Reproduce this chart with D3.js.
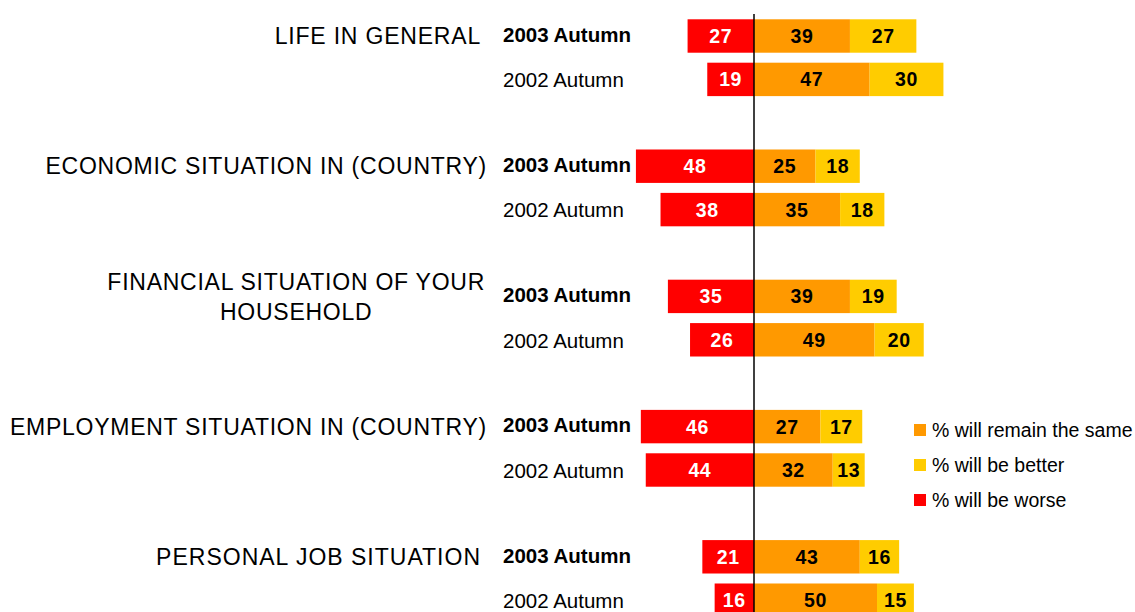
<!DOCTYPE html>
<html>
<head>
<meta charset="utf-8">
<script src="https://cdn.jsdelivr.net/npm/d3@7/dist/d3.min.js"></script>
<style>
  html, body { margin: 0; padding: 0; background: #fff; }
  svg { display: block; font-family: "Liberation Sans", Arial, sans-serif; }
</style>
</head>
<body>
<svg id="chart" width="1135" height="612"></svg>
<script>
const categories = [
  ["LIFE IN GENERAL"],
  ["ECONOMIC SITUATION IN (COUNTRY)"],
  ["FINANCIAL SITUATION OF YOUR", "HOUSEHOLD"],
  ["EMPLOYMENT SITUATION IN (COUNTRY)"],
  ["PERSONAL JOB SITUATION"]
];
const waves = ["2003 Autumn", "2002 Autumn"];
const worse  = [27, 19, 48, 38, 35, 26, 46, 44, 21, 16];
const same   = [39, 47, 25, 35, 39, 49, 27, 32, 43, 50];
const better = [27, 30, 18, 18, 19, 20, 17, 13, 16, 15];
const seriesNames = ["% will remain the same", "% will be better", "% will be worse"];
const colors = { worse: "#FF0000", same: "#FF9900", better: "#FFCC00" };

const svg = d3.select("#chart");
const cx = 754, unit = 2.46;
const x = d3.scaleLinear().domain([-60, 80]).range([cx - 60 * unit, cx + 80 * unit]);

// 15 slots: two bars + one gap per category
const slots = d3.range(15);
const y = d3.scaleBand().domain(slots).range([14.3, 14.3 + 15 * 43.4])
  .paddingInner(0.23).paddingOuter(0.115);

const rows = [];
categories.forEach((c, g) => {
  waves.forEach((w, k) => {
    const i = g * 2 + k;
    rows.push({ slot: g * 3 + k, wave: w, bold: k === 0, worse: worse[i], same: same[i], better: better[i] });
  });
});

const segs = [];
rows.forEach(r => {
  segs.push({ r, key: "worse", x0: -r.worse, x1: 0, v: r.worse, fill: colors.worse, tc: "#fff" });
  segs.push({ r, key: "same", x0: 0, x1: r.same, v: r.same, fill: colors.same, tc: "#000" });
  segs.push({ r, key: "better", x0: r.same, x1: r.same + r.better, v: r.better, fill: colors.better, tc: "#000" });
});

svg.append("g").selectAll("rect").data(segs).join("rect")
  .attr("x", d => x(d.x0))
  .attr("width", d => x(d.x1) - x(d.x0))
  .attr("y", d => y(d.r.slot))
  .attr("height", y.bandwidth())
  .attr("fill", d => d.fill);

svg.append("g").selectAll("text").data(segs).join("text")
  .attr("x", d => (x(d.x0) + x(d.x1)) / 2)
  .attr("y", d => y(d.r.slot) + y.bandwidth() / 2)
  .attr("dy", "0.36em")
  .attr("text-anchor", "middle")
  .attr("font-size", 19.5)
  .attr("font-weight", "bold")
  .attr("letter-spacing", 0.6)
  .attr("fill", d => d.tc)
  .text(d => d.v);

// center line
svg.append("line")
  .attr("x1", x(0)).attr("x2", x(0))
  .attr("y1", 14).attr("y2", 612)
  .attr("stroke", "#000").attr("stroke-width", 1.5);

// wave labels
svg.append("g").selectAll("text").data(rows).join("text")
  .attr("x", 503)
  .attr("y", d => y(d.slot) + y.bandwidth() / 2 + (d.bold ? -1.5 : 0.5))
  .attr("dy", "0.36em")
  .attr("font-size", 20.5)
  .attr("font-weight", d => d.bold ? "bold" : "normal")
  .attr("fill", "#000")
  .text(d => d.wave);

// category labels
const catRight = [481, 487, 485, 487, 481];
const catSpacing = [0.8, 0.75, 0.75, 0.75, 1.0];
const catG = svg.append("g");
categories.forEach((lines, g) => {
  const yc = y(g * 3) + y.bandwidth() / 2;
  const rx = catRight[g];
  if (lines.length === 1) {
    catG.append("text")
      .attr("x", rx).attr("y", yc).attr("dy", "0.36em")
      .attr("text-anchor", "end")
      .attr("font-size", 23).attr("letter-spacing", catSpacing[g])
      .attr("fill", "#000")
      .text(lines[0]);
  } else {
    const t1 = catG.append("text")
      .attr("x", rx).attr("y", yc - 15).attr("dy", "0.36em")
      .attr("text-anchor", "end")
      .attr("font-size", 23).attr("letter-spacing", catSpacing[g])
      .attr("fill", "#000")
      .text(lines[0]);
    const w1 = t1.node().getComputedTextLength();
    catG.append("text")
      .attr("x", rx - w1 / 2).attr("y", yc + 15).attr("dy", "0.36em")
      .attr("text-anchor", "middle")
      .attr("font-size", 23).attr("letter-spacing", catSpacing[g])
      .attr("fill", "#000")
      .text(lines[1]);
  }
});

// legend
const legendColors = [colors.same, colors.better, colors.worse];
const lg = svg.append("g");
seriesNames.forEach((n, i) => {
  const yy = 430 + i * 35;
  lg.append("rect").attr("x", 914).attr("y", yy - 6).attr("width", 12).attr("height", 12)
    .attr("fill", legendColors[i]);
  lg.append("text").attr("x", 932).attr("y", yy).attr("dy", "0.36em")
    .attr("font-size", 19.5).attr("fill", "#000").text(n);
});
</script>
</body>
</html>
